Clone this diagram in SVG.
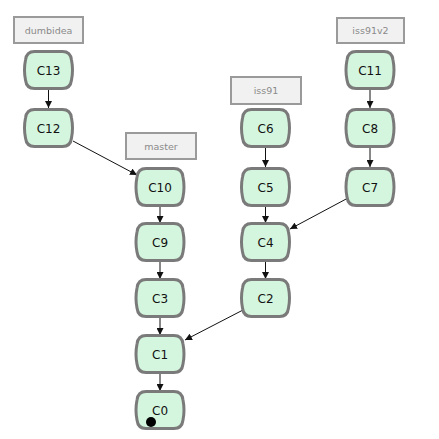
<svg xmlns="http://www.w3.org/2000/svg" xmlns:xlink="http://www.w3.org/1999/xlink" width="439" height="439" viewBox="0 0 439 439">
  <style>
    .commit { fill: #d5f6de; stroke: #7a7a7a; stroke-width: 3; }
    .ctext { font-family: "DejaVu Sans", "Liberation Sans", sans-serif; font-size: 12px; fill: #111; text-anchor: middle; }
    .ref { fill: #f1f1f1; stroke: #9a9a9a; stroke-width: 2; }
    .rtext { font-family: "DejaVu Sans", "Liberation Sans", sans-serif; font-size: 9.5px; fill: #8a8a8a; text-anchor: middle; }
    .edge { stroke: #111; stroke-width: 1; fill: none; marker-end: url(#arrow); }
  </style>
  <defs>
    <!-- barrel-shaped commit node, centred on the origin -->
    <path id="node" d="M -14,-18.5 H 14 Q 22,-18.5 23,-10 Q 25,0 23,10 Q 22,18.5 14,18.5 H -14 Q -22,18.5 -23,10 Q -25,0 -23,-10 Q -22,-18.5 -14,-18.5 Z"/>
    <marker id="arrow" viewBox="0 0 10 10" refX="10" refY="5" markerWidth="7" markerHeight="7" markerUnits="userSpaceOnUse" orient="auto">
      <path d="M0,0 L10,5 L0,10 Z" fill="#111"/>
    </marker>
  </defs>
  <rect width="439" height="439" fill="#ffffff"/>

  <!-- branch labels -->
  <g id="ref-dumbidea"><rect class="ref" x="14" y="17" width="69" height="26"/><text class="rtext" x="48.5" y="33.5">dumbidea</text></g>
  <g id="ref-master"><rect class="ref" x="126" y="133" width="70" height="26"/><text class="rtext" x="161" y="149.5">master</text></g>
  <g id="ref-iss91"><rect class="ref" x="231" y="77" width="70" height="27"/><text class="rtext" x="266" y="94">iss91</text></g>
  <g id="ref-iss91v2"><rect class="ref" x="337" y="18" width="67" height="25"/><text class="rtext" x="370.5" y="34">iss91v2</text></g>

  <!-- parent links -->
  <g id="connectors">
    <line class="edge" x1="48.5" y1="89" x2="48.5" y2="108"/>
    <line class="edge" x1="73" y1="141" x2="137" y2="175"/>
    <line class="edge" x1="160" y1="206" x2="160" y2="223"/>
    <line class="edge" x1="160" y1="261" x2="160" y2="279"/>
    <line class="edge" x1="160" y1="317" x2="160" y2="335"/>
    <line class="edge" x1="160" y1="373" x2="160" y2="391"/>
    <line class="edge" x1="265.5" y1="147" x2="265.5" y2="167"/>
    <line class="edge" x1="265.5" y1="206" x2="265.5" y2="223"/>
    <line class="edge" x1="265.5" y1="261" x2="265.5" y2="279"/>
    <line class="edge" x1="370" y1="89" x2="370" y2="108"/>
    <line class="edge" x1="370" y1="147" x2="370" y2="167"/>
    <line class="edge" x1="348" y1="198" x2="290" y2="229"/>
    <line class="edge" x1="243" y1="310" x2="185" y2="340"/>
  </g>

  <!-- commits -->
  <g id="C13" transform="translate(48.5,70)"><use xlink:href="#node" class="commit"/><text class="ctext" y="4.5">C13</text></g>
  <g id="C12" transform="translate(48.5,128)"><use xlink:href="#node" class="commit"/><text class="ctext" y="4.5">C12</text></g>
  <g id="C10" transform="translate(160,187)"><use xlink:href="#node" class="commit"/><text class="ctext" y="4.5">C10</text></g>
  <g id="C9" transform="translate(160,242)"><use xlink:href="#node" class="commit"/><text class="ctext" y="4.5">C9</text></g>
  <g id="C3" transform="translate(160,298)"><use xlink:href="#node" class="commit"/><text class="ctext" y="4.5">C3</text></g>
  <g id="C1" transform="translate(160,354)"><use xlink:href="#node" class="commit"/><text class="ctext" y="4.5">C1</text></g>
  <g id="C0" transform="translate(160,410)"><use xlink:href="#node" class="commit"/><text class="ctext" y="4.5">C0</text><circle cx="-9" cy="12" r="5" fill="#000"/></g>
  <g id="C6" transform="translate(265.5,128)"><use xlink:href="#node" class="commit"/><text class="ctext" y="4.5">C6</text></g>
  <g id="C5" transform="translate(265.5,187)"><use xlink:href="#node" class="commit"/><text class="ctext" y="4.5">C5</text></g>
  <g id="C4" transform="translate(265.5,242)"><use xlink:href="#node" class="commit"/><text class="ctext" y="4.5">C4</text></g>
  <g id="C2" transform="translate(265.5,298)"><use xlink:href="#node" class="commit"/><text class="ctext" y="4.5">C2</text></g>
  <g id="C11" transform="translate(370,70)"><use xlink:href="#node" class="commit"/><text class="ctext" y="4.5">C11</text></g>
  <g id="C8" transform="translate(370,128)"><use xlink:href="#node" class="commit"/><text class="ctext" y="4.5">C8</text></g>
  <g id="C7" transform="translate(370,187)"><use xlink:href="#node" class="commit"/><text class="ctext" y="4.5">C7</text></g>
</svg>
